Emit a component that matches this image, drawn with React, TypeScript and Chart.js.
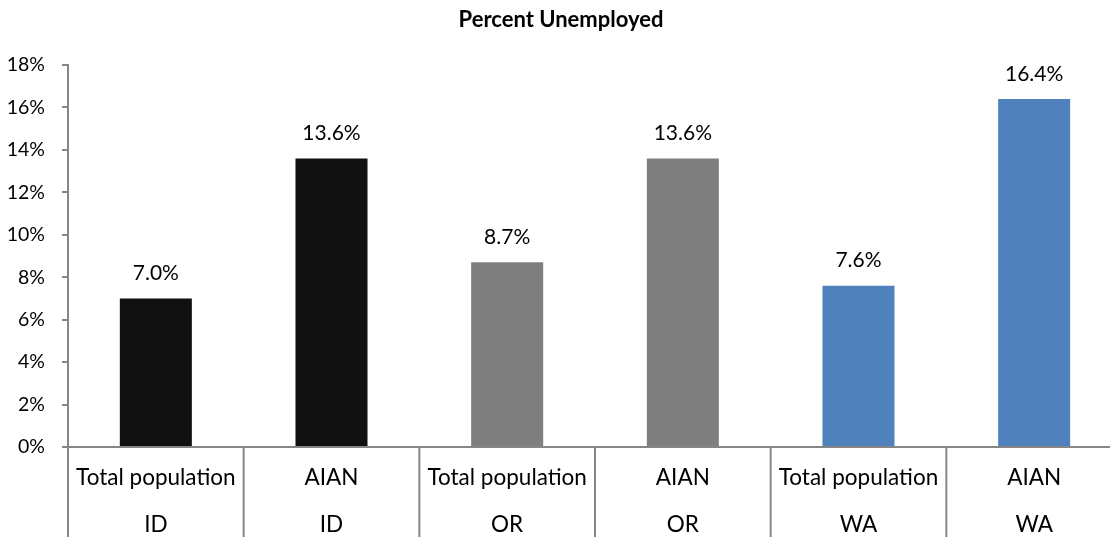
import React, { useEffect, useRef } from "react";
import { Chart, registerables } from "chart.js";

Chart.register(...registerables);

const groups: string[] = ["Total population", "AIAN", "Total population", "AIAN", "Total population", "AIAN"];
const states: string[] = ["ID", "ID", "OR", "OR", "WA", "WA"];
const values: number[] = [7.0, 13.6, 8.7, 13.6, 7.6, 16.4];
const barColors: string[] = ["#111111", "#111111", "#7f7f7f", "#7f7f7f", "#4f81bd", "#4f81bd"];
const titleText = "Percent Unemployed";

const FONT = "Lato, 'Open Sans', sans-serif";
const AXIS = "#868686";

const customPlugin = {
  id: "custom",
  afterDraw(chart: any) {
    const ctx = chart.ctx;
    const x = chart.scales.x;
    const area = chart.chartArea;
    const bottom = chart.height;
    ctx.save();
    ctx.strokeStyle = AXIS;
    ctx.lineWidth = 2;
    const n = groups.length;
    const step = x.getPixelForValue(1) - x.getPixelForValue(0);
    for (let i = 0; i <= n; i++) {
      const px = i < n ? x.getPixelForValue(i) - step / 2 : x.getPixelForValue(n - 1) + step / 2;
      ctx.beginPath();
      ctx.moveTo(px, area.bottom);
      ctx.lineTo(px, bottom);
      ctx.stroke();
    }
    ctx.fillStyle = "#000";
    ctx.textAlign = "center";
    ctx.textBaseline = "middle";
    ctx.font = `22.5px ${FONT}`;
    for (let i = 0; i < n; i++) {
      const px = x.getPixelForValue(i);
      ctx.fillText(groups[i], px, area.bottom + 31);
      ctx.fillText(states[i], px, area.bottom + 78);
    }
    ctx.font = `21px ${FONT}`;
    const meta = chart.getDatasetMeta(0);
    meta.data.forEach((bar: any, i: number) => {
      ctx.fillText(values[i].toFixed(1) + "%", bar.x, bar.y - 25);
    });
    ctx.restore();
  },
};

export default function App() {
  const ref = useRef<HTMLCanvasElement>(null);
  useEffect(() => {
    if (!ref.current) return;
    const chart = new Chart(ref.current, {
      type: "bar",
      data: {
        labels: groups.map((g, i) => g + " " + states[i]),
        datasets: [
          {
            data: values,
            backgroundColor: barColors,
            barPercentage: 0.41,
            categoryPercentage: 1,
          },
        ],
      },
      options: {
        responsive: false,
        animation: false,
        devicePixelRatio: 1,
        layout: { padding: { left: 0, right: 8, top: 0, bottom: 0 } },
        plugins: {
          legend: { display: false },
          tooltip: { enabled: false },
          title: {
            display: true,
            text: titleText,
            color: "#000",
            font: { family: FONT, size: 22, weight: "bold", lineHeight: 1.2 },
            padding: { top: 7, bottom: 31.6 },
          },
        },
        scales: {
          x: {
            ticks: { display: false },
            grid: { display: false },
            border: { display: true, color: AXIS, width: 2 },
            afterFit: (s: any) => {
              s.height = 90;
            },
          },
          y: {
            min: 0,
            max: 18,
            ticks: {
              stepSize: 2,
              color: "#000",
              font: { family: FONT, size: 19.5 },
              padding: 17,
              callback: (v: any) => v + "%",
            },
            grid: {
              drawOnChartArea: false,
              drawTicks: true,
              tickLength: 6,
              color: AXIS,
              lineWidth: 2,
            },
            border: { display: true, color: AXIS, width: 2 },
            afterFit: (s: any) => {
              s.width = 68;
            },
          },
        },
      },
      plugins: [customPlugin],
    });
    return () => chart.destroy();
  }, []);
  return (
    <div style={{ position: "fixed", left: 0, top: 0, width: 1110, height: 537, overflow: "hidden", background: "#fff" }}>
      <canvas ref={ref} width={1130} height={537} style={{ display: "block" }} />
    </div>
  );
}
